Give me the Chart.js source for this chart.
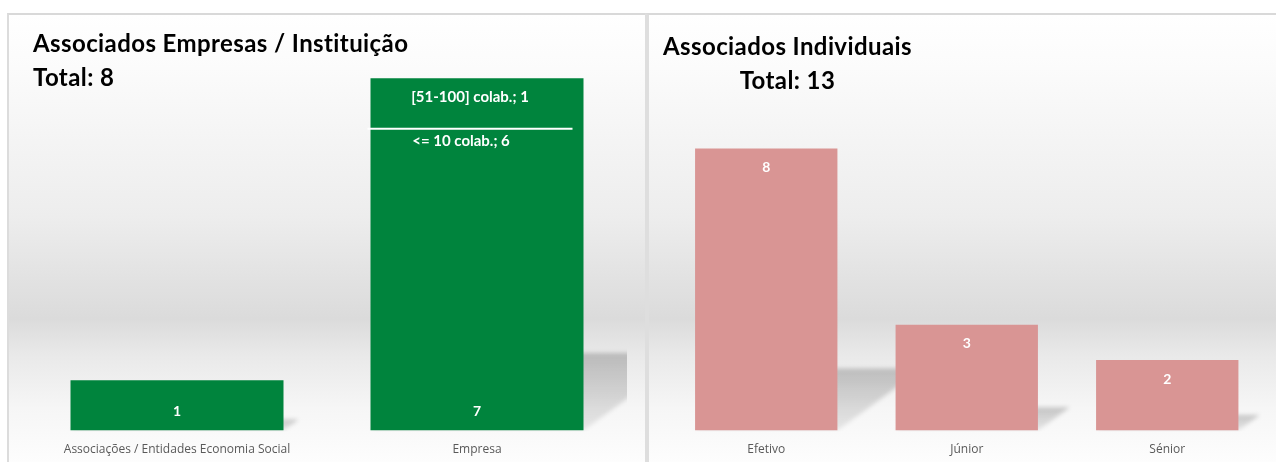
<!DOCTYPE html>
<html lang="pt">
<head>
<meta charset="utf-8">
<title>Associados</title>
<script src="https://cdn.jsdelivr.net/npm/chart.js@4.4.1/dist/chart.umd.min.js"></script>
<style>
  html, body { margin: 0; padding: 0; background: #fff; width: 1276px; height: 462px; overflow: hidden; }
  .panel {
    position: absolute; top: 13px; height: 447px;
    border-top: 2px solid #d9d9d9;
    background: linear-gradient(to bottom, #fff 0%, #fbfbfb 12%, #ededed 45%, #dbdbdb 68%, #e9e9e9 76%, #f6f6f6 88%, #fdfdfd 100%);
  }
  #leftPanel { left: 7px; width: 636px; border-left: 2px solid #dcdcdc; }
  #rightPanel { left: 645px; width: 631px; border-left: 4px solid #dedede; }
  .panel canvas { position: absolute; left: 0; top: 0; }
  .title {
    position: absolute; z-index: 2; color: #000;
    font: bold 24px Lato, sans-serif; letter-spacing: 0.4px; line-height: 34px; white-space: nowrap;
  }
  #leftTitle { left: 33px; top: 26px; text-align: left; }
  #rightTitle { left: 663px; top: 29px; text-align: center; }
</style>
</head>
<body>
<div id="leftPanel" class="panel"><canvas id="empresasChart" width="636" height="447"></canvas></div>
<div id="rightPanel" class="panel"><canvas id="individuaisChart" width="627" height="447"></canvas></div>
<div id="leftTitle" class="title"></div>
<div id="rightTitle" class="title"></div>

<script>
// Data
const empresaCategories = ['Associações / Entidades Economia Social', 'Empresa'];
const empresaValues = [1, 7];
const empresaBreakdownLabels = ['<= 10 colab.', '[51-100] colab.'];
const empresaBreakdownValues = [6, 1];

const individualCategories = ['Efetivo', 'Júnior', 'Sénior'];
const individualValues = [8, 3, 2];

const green = '#00843D';
const pink = '#D99594';

const sum = arr => arr.reduce((a, b) => a + b, 0);
document.getElementById('leftTitle').innerHTML =
  'Associados Empresas / Instituição<br>Total: ' + sum(empresaValues);
document.getElementById('rightTitle').innerHTML =
  'Associados Individuais<br>Total: ' + sum(individualValues);

// Shadows behind bars + value labels
const barExtras = {
  id: 'barExtras',
  beforeDatasetsDraw(chart) {
    const ctx = chart.ctx;
    const area = chart.chartArea;
    ctx.save();
    ctx.beginPath();
    ctx.rect(area.left, area.top, area.right - area.left, area.bottom - area.top + 1);
    ctx.clip();
    ctx.filter = 'blur(2px)';
    chart.getDatasetMeta(0).data.forEach(bar => {
      const p = bar.getProps(['x', 'y', 'base', 'width'], true);
      const h = p.base - p.y;
      const sh = h * 0.22;
      const dx = h * 0.3;
      const half = p.width / 2;
      const g = ctx.createLinearGradient(0, p.base - sh, 0, p.base);
      g.addColorStop(0, 'rgba(0,0,0,0.2)');
      g.addColorStop(1, 'rgba(0,0,0,0.07)');
      ctx.fillStyle = g;
      ctx.beginPath();
      ctx.moveTo(p.x - half, p.base);
      ctx.lineTo(p.x - half + dx, p.base - sh);
      ctx.lineTo(p.x + half + dx, p.base - sh);
      ctx.lineTo(p.x + half, p.base);
      ctx.closePath();
      ctx.fill();
    });
    ctx.restore();
  },
  afterDatasetsDraw(chart, args, opts) {
    const ctx = chart.ctx;
    const values = chart.data.datasets[0].data;
    ctx.save();
    ctx.fillStyle = '#fff';
    ctx.font = 'bold 14px Lato, sans-serif';
    ctx.textAlign = 'center';
    ctx.textBaseline = 'middle';
    chart.getDatasetMeta(0).data.forEach((bar, i) => {
      const p = bar.getProps(['x', 'y', 'base'], true);
      const y = opts.position === 'base' ? p.base - 19 : p.y + 19;
      ctx.fillText(String(values[i]), p.x, y);
    });
    ctx.restore();
  }
};

// Breakdown of the Empresa bar (line + two labels)
const empresaBreakdown = {
  id: 'empresaBreakdown',
  afterDatasetsDraw(chart) {
    const ctx = chart.ctx;
    const yScale = chart.scales.y;
    const bar = chart.getDatasetMeta(0).data[1].getProps(['x', 'y', 'width'], true);
    const half = bar.width / 2;
    const lineY = yScale.getPixelForValue(empresaBreakdownValues[0]);
    ctx.save();
    ctx.strokeStyle = '#fff';
    ctx.lineWidth = 2;
    ctx.beginPath();
    ctx.moveTo(bar.x - half - 3, lineY);
    ctx.lineTo(bar.x + half - 11, lineY);
    ctx.stroke();
    ctx.fillStyle = '#fff';
    ctx.font = 'bold 15px Lato, sans-serif';
    ctx.textAlign = 'center';
    ctx.textBaseline = 'middle';
    ctx.fillText(empresaBreakdownLabels[1] + '; ' + empresaBreakdownValues[1], bar.x - 7, (bar.y + lineY) / 2 - 6);
    ctx.fillText(empresaBreakdownLabels[0] + '; ' + empresaBreakdownValues[0], bar.x - 16, lineY + 13);
    ctx.restore();
  }
};

function makeChart(canvasId, labels, data, color, yMax, padding, labelPosition, extraPlugins) {
  return new Chart(document.getElementById(canvasId), {
    type: 'bar',
    data: {
      labels,
      datasets: [{
        data,
        backgroundColor: color,
        borderWidth: 0,
        categoryPercentage: 1,
        barPercentage: 0.71
      }]
    },
    options: {
      responsive: false,
      animation: false,
      layout: { padding },
      plugins: {
        legend: { display: false },
        tooltip: { enabled: false },
        barExtras: { position: labelPosition }
      },
      scales: {
        x: {
          grid: { display: false, drawTicks: false },
          border: { display: false },
          ticks: {
            color: '#595959',
            font: { family: 'Open Sans', size: 12 },
            padding: 12,
            maxRotation: 0,
            autoSkip: false
          }
        },
        y: { display: false, min: 0, max: yMax }
      }
    },
    plugins: [barExtras].concat(extraPlugins)
  });
}

makeChart('empresasChart', empresaCategories, empresaValues, green, 8,
  { left: 18, right: 18, top: 13, bottom: -7 }, 'base', [empresaBreakdown]);
makeChart('individuaisChart', individualCategories, individualValues, pink, 10,
  { left: 17, right: 8.5, top: 63, bottom: -7 }, 'end', []);
</script>
</body>
</html>
